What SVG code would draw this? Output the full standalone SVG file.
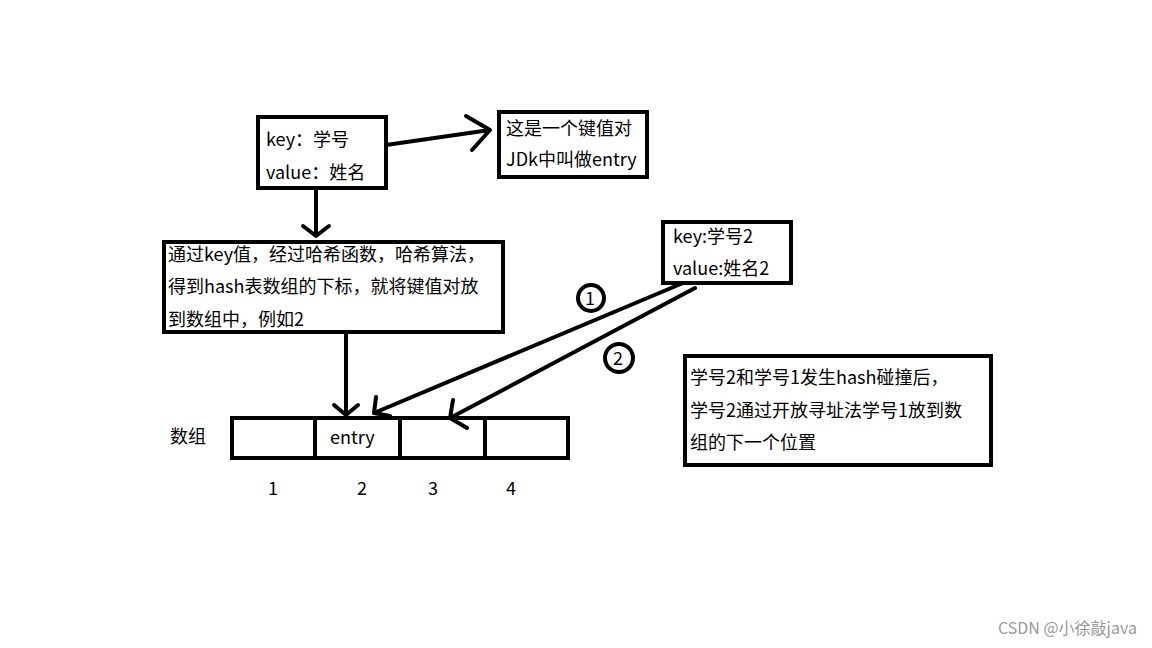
<svg xmlns="http://www.w3.org/2000/svg" width="1152" height="648" viewBox="0 0 1152 648">
<style>
.b{fill:#fff;stroke:#000;stroke-width:4}
.t{font-family:"Microsoft YaHei","Noto Sans CJK SC",sans-serif;font-size:18px;fill:#000}
.l{stroke:#000;stroke-width:4;fill:none;stroke-linecap:round;stroke-linejoin:round}
</style>
<rect width="1152" height="648" fill="#fff"/>
<g id="n1"><rect class="b" x="258" y="117" width="128" height="71"/><text class="t" x="266" y="146">key：学号</text><text class="t" x="266" y="179">value：姓名</text></g>
<g id="n2"><rect class="b" x="499" y="112" width="148" height="65"/><text class="t" x="506" y="135">这是一个键值对</text><text class="t" x="506" y="166">JDk中叫做entry</text></g>
<g id="n3"><rect class="b" x="164" y="242" width="339" height="90"/><text class="t" x="168" y="261">通过key值，经过哈希函数，哈希算法，</text><text class="t" x="168" y="293">得到hash表数组的下标，就将键值对放</text><text class="t" x="168" y="326">到数组中，例如2</text></g>
<g id="n4"><rect class="b" x="663" y="222" width="128" height="61"/><text class="t" x="673" y="243">key:学号2</text><text class="t" x="673" y="275">value:姓名2</text></g>
<g id="n5"><rect class="b" x="685" y="356" width="306" height="109"/><text class="t" x="690" y="384">学号2和学号1发生hash碰撞后，</text><text class="t" x="690" y="417">学号2通过开放寻址法学号1放到数</text><text class="t" x="690" y="449">组的下一个位置</text></g>
<g id="array"><rect class="b" x="232" y="418" width="336" height="40"/><path class="l" d="M315 418V458M400 418V458M485 418V458"/><text class="t" x="330" y="444">entry</text><text class="t" x="170" y="443">数组</text>
<text class="t" x="268" y="495">1</text><text class="t" x="357" y="495">2</text><text class="t" x="428" y="495">3</text><text class="t" x="506" y="495">4</text></g>
<g id="connectors">
<path class="l" d="M386 145L490 130M466 116L490 130L472 150"/>
<path class="l" d="M316 188V236M303 226L316 236L329 226"/>
<path class="l" d="M346 332V415M334 405L346 415L358 405"/>
<path class="l" d="M683 283L374 413M376 397L374 413L390 416"/>
<path class="l" d="M695 288L450 418M453 400L450 418L467 428"/>
<circle cx="591" cy="298" r="13" class="l"/><text class="t" x="585" y="305" font-size="16">1</text>
<circle cx="619" cy="358" r="14" class="l"/><text class="t" x="613" y="365" font-size="16">2</text>
</g>
<text x="1137" y="634" text-anchor="end" font-family="Noto Sans CJK SC,sans-serif" font-size="16" fill="#999">CSDN @小徐敲java</text>
</svg>
